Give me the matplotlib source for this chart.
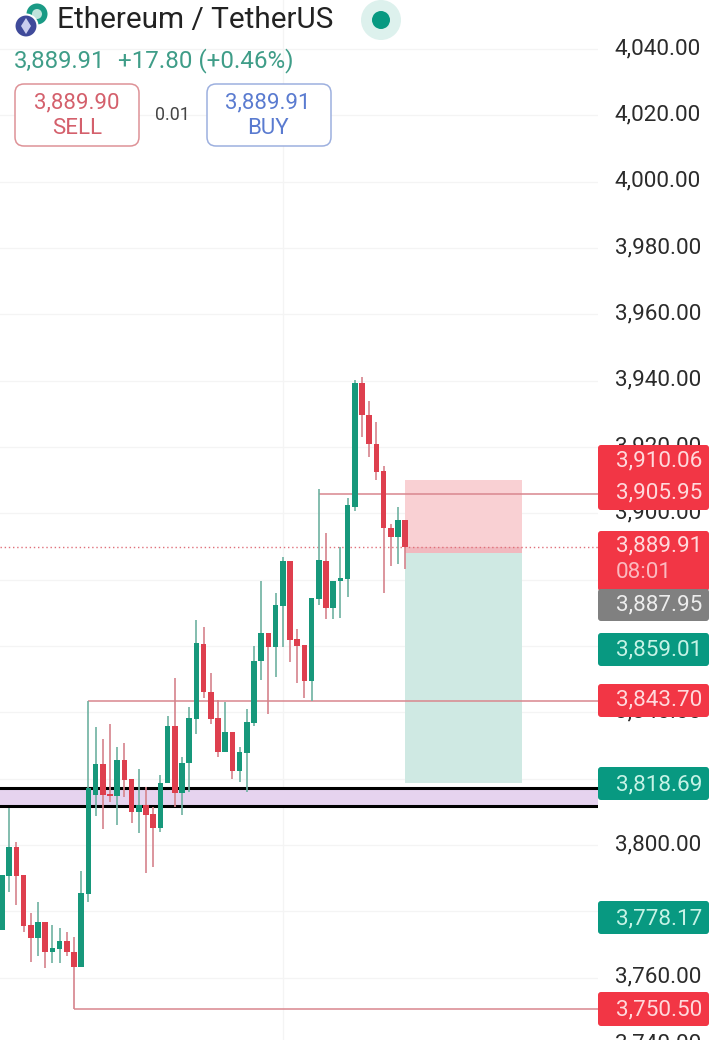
import matplotlib
matplotlib.use("Agg")
import matplotlib.pyplot as plt
from matplotlib.patches import FancyBboxPatch, Circle, Polygon, Rectangle
from matplotlib.transforms import ScaledTranslation

plt.rcParams['font.family'] = ['Roboto', 'DejaVu Sans']

opens = [3774.4,3790.7,3799.4,3791.0,3775.9,3772.0,3776.8,3767.7,3768.6,3771.1,3767.7,3763.2,3785.2,
         3815.1,3824.4,3815.4,3814.8,3825.6,3819.9,3809.9,3812.1,3809.3,3805.1,3818.7,3835.9,3815.7,3824.7,
         3838.0,3860.6,3846.1,3838.3,3828.0,3834.1,3822.3,3827.7,3836.8,3855.5,3863.9,3859.7,3872.1,3885.6,
         3862.1,3860.3,3849.4,3874.2,3885.6,3871.5,3879.6,3880.2,3901.9,3939.3,3929.6,3920.9,3912.8,3895.6,3892.9,3898.0]
highs = [3791.0,3811.2,3800.9,3791.0,3779.5,3782.8,3776.8,3775.9,3775.0,3773.8,3772.3,3792.2,3843.4,
         3835.6,3832.0,3836.5,3829.5,3830.8,3819.9,3822.9,3817.5,3811.5,3821.1,3838.9,3850.4,3826.5,3841.6,
         3867.8,3865.7,3851.9,3843.7,3843.1,3834.1,3829.5,3841.0,3860.0,3879.6,3863.9,3876.0,3886.8,3885.6,
         3865.1,3860.3,3874.5,3907.3,3894.1,3879.6,3889.8,3904.6,3940.2,3941.1,3933.9,3927.5,3914.3,3896.8,3901.9,3898.0]
lows = [3774.4,3785.8,3781.9,3773.8,3764.7,3766.5,3762.9,3764.4,3764.4,3766.5,3750.5,3763.2,3782.8,
        3808.7,3804.8,3813.0,3806.0,3814.5,3806.6,3803.6,3791.6,3793.4,3803.9,3818.7,3811.5,3809.0,3816.0,
        3833.5,3844.3,3836.5,3826.5,3828.0,3819.9,3819.0,3816.0,3835.9,3849.7,3839.5,3850.7,3859.7,3855.2,
        3848.8,3844.3,3843.4,3872.4,3868.1,3868.1,3868.4,3874.8,3900.7,3923.0,3917.0,3910.0,3876.0,3884.1,3884.7,3883.2]
closes = [3791.0,3799.4,3790.7,3775.6,3772.0,3776.8,3767.7,3768.9,3771.1,3767.7,3763.2,3785.5,3817.2,
          3824.4,3815.1,3814.8,3825.6,3819.6,3809.9,3812.1,3809.0,3805.1,3818.7,3835.9,3815.7,3824.7,3838.3,
          3860.9,3846.1,3838.0,3828.0,3834.1,3822.3,3828.0,3837.1,3855.5,3863.9,3859.7,3872.4,3885.6,3861.8,
          3860.0,3849.4,3874.5,3885.9,3871.5,3879.6,3880.5,3902.5,3939.3,3929.6,3920.9,3912.5,3895.6,3892.9,3898.0,3889.9]

price_ticks = [3740 + 20 * k for k in range(16)]
last_price = 3889.91
level_prices = [3905.95, 3843.40, 3750.50]
level_starts = [44, 12, 10]
zone_low, zone_high = 3811.8, 3817.2
pos_target, pos_entry, pos_stop = 3910.06, 3887.95, 3818.69
pos_start, pos_end = 56, 72.2
grid_vertical = [39]

label_texts = ["3,910.06", "3,905.95", "3,889.91", "3,887.95", "3,859.01", "3,843.70", "3,818.69", "3,778.17", "3,750.50"]
label_kinds = ["r", "r", "r", "g", "t", "r", "t", "t", "r"]

RED, GREEN, GREY = "#F23645", "#089981", "#808080"
CANDLE_R, CANDLE_G = "#DE3F4E", "#17987B"
WICK_R, WICK_G = "#D6838C", "#6EB1A1"
LINE_R = "#D9868E"
GRID = "#F4F4F4"

fig = plt.figure(figsize=(7.16, 10.40), dpi=100, facecolor="white")
ax = fig.add_axes([0, -20 / 1040, 598 / 716, 1060 / 1040])
ax.set_xlim(-2 / 7.2, (598 - 2) / 7.2)
ax.set_ylim(3800 - (1060 - 845) / 3.3165, 3800 + 845 / 3.3165)
for s in ax.spines.values():
    s.set_visible(False)
ax.set_axisbelow(True)
ax.set_xticks(grid_vertical)
ax.set_xticklabels([])
ax.set_yticks(price_ticks)
ax.set_yticklabels([f"{v:,.2f}" for v in price_ticks])
ax.yaxis.tick_right()
ax.tick_params(axis="both", length=0)
ax.tick_params(axis="y", labelsize=16.2, labelcolor="#2B2B2B", pad=12)
ax.grid(True, color=GRID, lw=0.9)
shift = ScaledTranslation(0, 3 / 100, fig.dpi_scale_trans)
for lab in ax.get_yticklabels():
    lab.set_transform(lab.get_transform() + shift)

# position tool
ax.add_patch(Rectangle((pos_start, pos_entry), pos_end - pos_start, pos_target - pos_entry, fc="#F9D0D3", ec="none", zorder=1))
ax.add_patch(Rectangle((pos_start, pos_stop), pos_end - pos_start, pos_entry - pos_stop, fc="#CFE9E3", ec="none", zorder=1))
ax.add_patch(Rectangle((pos_start, pos_entry), pos_end - pos_start, last_price - pos_entry, fc="#F1B9BF", ec="none", zorder=1.1))

# zone
ax.axhspan(zone_low, zone_high, fc="#E6D3EF", ec="none", zorder=1.2)
ax.axhline(zone_low, color="black", lw=2.2, zorder=1.3)
ax.axhline(zone_high, color="black", lw=2.2, zorder=1.3)

# levels
for p, st in zip(level_prices, level_starts):
    ax.hlines(p, st, ax.get_xlim()[1], color=LINE_R, lw=1.1, zorder=1.5)
ax.axhline(last_price, color="#E0707A", lw=1.0, ls=(0, (1, 2)), zorder=1.4)

# candles
for i, (o, h, l, c) in enumerate(zip(opens, highs, lows, closes)):
    up = c >= o
    ax.vlines(i, l, h, color=WICK_G if up else WICK_R, lw=1.2, zorder=2)
    ax.bar(i, abs(c - o), bottom=min(o, c), width=0.8, color=CANDLE_G if up else CANDLE_R, lw=0, zorder=3)

# overlay in pixel coordinates: header and price labels
ov = fig.add_axes([0, 0, 1, 1], facecolor="none")
ov.set_xlim(0, 716)
ov.set_ylim(1040, 0)
ov.axis("off")

label_rows = [461, 493, 546, 605, 650, 700, 785, 919, 1010]
boxes = [(445, 510, RED), (531, 591, RED), (589, 621, GREY), (633, 666, GREEN), (684, 717, RED),
         (767, 800, GREEN), (901, 934, GREEN), (992, 1026, RED)]
for y0, y1, col in boxes:
    ov.add_patch(FancyBboxPatch((600, y0 + 2), 107, y1 - y0 - 4, boxstyle="round,pad=2,rounding_size=3",
                                fc=col, ec="none", zorder=3))
txtcol = {"r": "#FFD9DC", "g": "#EDEDED", "t": "#C6F3E6"}
for s, k, y in zip(label_texts, label_kinds, label_rows):
    ov.text(616, y, s, color=txtcol[k], fontsize=16.2, va="center", ha="left", zorder=4)
ov.text(616, 572, "08:01", color="#FBB9BF", fontsize=16.2, va="center", ha="left", zorder=4)

# header
ov.add_patch(Circle((37, 14), 10.5, fc="#1A9A85", ec="none"))
ov.add_patch(Circle((37, 14), 5, fc="#BFE3DB", ec="none"))
ov.add_patch(Circle((26, 26), 11.5, fc="#3F4A9A", ec="white", lw=1.5))
ov.add_patch(Polygon([(26, 18), (31, 26), (26, 34), (21, 26)], fc="#C9CDEE", ec="none"))
ov.text(57, 20, "Ethereum / TetherUS", fontsize=21.4, color="#222222", va="center", ha="left")
ov.add_patch(Circle((381, 20), 20, fc="#DDF1ED", ec="none"))
ov.add_patch(Circle((381, 20), 9, fc="#089981", ec="none"))
ov.text(14, 61, "3,889.91", fontsize=17.2, color="#3F9D88", va="center", ha="left")
ov.text(118, 61, "+17.80 (+0.46%)", fontsize=17.4, color="#3F9D88", va="center", ha="left")
ov.add_patch(FancyBboxPatch((20, 89), 114, 52, boxstyle="round,pad=5,rounding_size=9", fc="white", ec="#DE9297", lw=1.1))
ov.add_patch(FancyBboxPatch((212, 89), 114, 52, boxstyle="round,pad=5,rounding_size=9", fc="white", ec="#9DB0DF", lw=1.1))
ov.text(77, 103, "3,889.90", fontsize=16, color="#D4606C", va="center", ha="center")
ov.text(77, 129, "SELL", fontsize=16, color="#D4606C", va="center", ha="center")
ov.text(172, 115, "0.01", fontsize=12.8, color="#444444", va="center", ha="center")
ov.text(268, 103, "3,889.91", fontsize=16, color="#5A7BD0", va="center", ha="center")
ov.text(268, 129, "BUY", fontsize=16, color="#5A7BD0", va="center", ha="center")

fig.savefig("out.png", dpi=100, facecolor="white")
